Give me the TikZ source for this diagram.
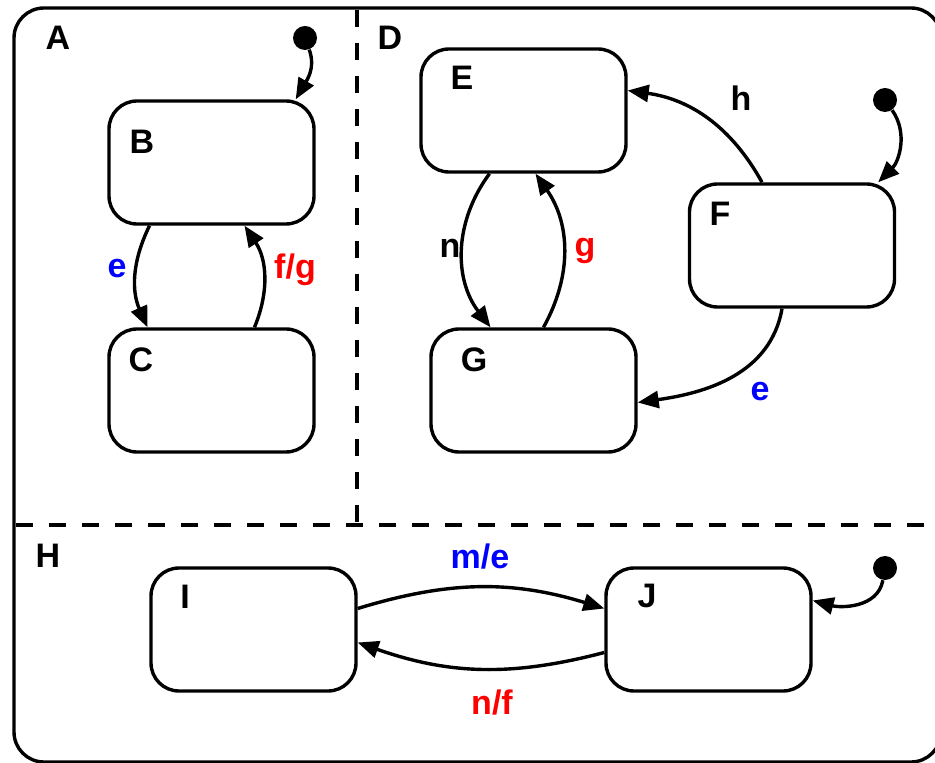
\documentclass[tikz,border=0pt]{standalone}
\usepackage{fontspec}
\setmainfont{Liberation Sans}
\usetikzlibrary{arrows.meta,calc}

\begin{document}
\begin{tikzpicture}[x=0.5pt,y=-0.5pt,
        state/.style={draw,line width=1.7pt,rounded corners=14pt,
            minimum width=102.5pt,minimum height=61.5pt},
        init/.style={circle,fill,inner sep=0pt,minimum size=12pt},
        lbl/.style={font=\fontsize{17}{20}\selectfont\bfseries},
        trans/.style={line width=1.7pt,-{Triangle[length=10.5pt,width=8.5pt]}},
        sep/.style={line width=1.7pt,dash pattern=on 8.5pt off 8pt}]
        \useasboundingbox (0,0) rectangle (935,763);
        \clip (0,0) rectangle (935,763);
        %% Frame
        \draw[line width=1.7pt,rounded corners=15pt] (14,8) rectangle (941,762);
        \draw[sep] (357,10) -- (357,524);
        \draw[sep] (16,525) -- (941,525);
        \node[lbl] (Alab) at (58,38) {A};
        \node[lbl] (Dlab) at (390,38) {D};
        \node[lbl] (Hlab) at (48,556) {H};
        %% States
        \node[state] (B) at (211.5,162.5) {};
        \node[state] (C) at (211.5,390.5) {};
        \node[state] (E) at (523.5,110.5) {};
        \node[state] (F) at (792,245.5) {};
        \node[state] (G) at (533.5,390.5) {};
        \node[state] (I) at (253.5,629.5) {};
        \node[state] (J) at (708.5,629.5) {};
        \node[lbl] (Blab) at (142,142) {B};
        \node[lbl] (Clab) at (141,360) {C};
        \node[lbl] (Elab) at (462,78) {E};
        \node[lbl] (Flab) at (720,214) {F};
        \node[lbl] (Glab) at (474,360) {G};
        \node[lbl] (Ilab) at (185,597) {I};
        \node[lbl] (Jlab) at (647,596) {J};
        %% Initial states
        \node[init] (A0) at (305,38) {};
        \node[init] (D0) at (885,100) {};
        \node[init] (H0) at (885,568) {};
        \draw[trans] (A0) to[out=-70,in=60] ($(B.north east)+(-20,0)$);
        \draw[trans] (D0) to[out=-55,in=45] ($(F.north east)+(-18,0)$);
        \draw[trans] (H0) to[out=-100,in=-15] ($(J.east)+(0,-29)$);
        %% Transitions
        \draw[trans] ($(B.south)+(-62,0)$) to[bend right=25] ($(C.north)+(-64,0)$);
        \draw[trans] ($(C.north)+(43,0)$) to[bend right=28] ($(B.south)+(33,0)$);
        \draw[trans] ($(F.north)+(-30,0)$) to[out=119,in=-8] ($(E.east)+(0,-20)$);
        \draw[trans] ($(E.south)+(-34,0)$) to[bend right=37] ($(G.north)+(-43,0)$);
        \draw[trans] ($(G.north)+(10,0)$) to[bend right=32] ($(E.south)+(12,0)$);
        \draw[trans] ($(F.south)+(-10,0)$) to[out=-100,in=8] ($(G.east)+(0,12)$);
        \draw[trans] ($(I.east)+(0,-21)$) to[bend left=17] ($(J.west)+(0,-21)$);
        \draw[trans] ($(J.west)+(0,23)$) to[bend left=17] ($(I.east)+(0,13)$);
        %% Labels
        \node[lbl,blue] (eBC) at (117,269) {e};
        \node[lbl,red] (fgCB) at (295,270) {f/g};
        \node[lbl] (hFE) at (741,98) {h};
        \node[lbl] (nEG) at (450,248) {n};
        \node[lbl,red] (gGE) at (585,251) {g};
        \node[lbl,blue] (eFG) at (760,392) {e};
        \node[lbl,blue] (meIJ) at (480,557) {m/e};
        \node[lbl,red] (nfJI) at (492,703) {n/f};
    \end{tikzpicture}
\end{document}
